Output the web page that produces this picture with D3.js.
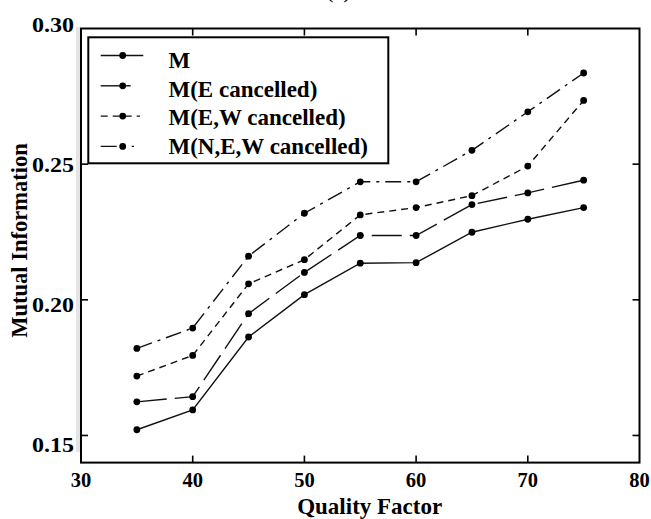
<!DOCTYPE html>
<html>
<head>
<meta charset="utf-8">
<script src="https://cdn.jsdelivr.net/npm/d3@7"></script>
<style>
  html, body { margin: 0; padding: 0; background: #ffffff; }
  svg { display: block; }
  text { font-family: "Liberation Serif", "Times New Roman", serif; font-weight: bold; fill: #000; }
</style>
</head>
<body>
<svg id="chart" width="651" height="519"></svg>
<script>
// ---- data ----
const qualityFactor = [35, 40, 45, 50, 55, 60, 65, 70, 75];
const seriesM   = [0.1521, 0.1594, 0.1863, 0.2019, 0.2135, 0.2137, 0.2249, 0.2297, 0.2340];
const seriesE   = [0.1624, 0.1643, 0.1949, 0.2101, 0.2237, 0.2237, 0.2351, 0.2394, 0.2441];
const seriesEW  = [0.1719, 0.1795, 0.2059, 0.2148, 0.2313, 0.2340, 0.2384, 0.2493, 0.2735];
const seriesNEW = [0.1821, 0.1896, 0.2161, 0.2319, 0.2435, 0.2435, 0.2551, 0.2693, 0.2836];
const seriesNames = ["M", "M(E cancelled)", "M(E,W cancelled)", "M(N,E,W cancelled)"];
const xTicks = [30, 40, 50, 60, 70, 80];
const yTicks = [0.15, 0.20, 0.25, 0.30];
const xTitle = "Quality Factor";
const yTitle = "Mutual Information";
const panelTitle = "(a)";

// ---- styles ----
const dashes = [null, "30,8", "7,5", "16,6,3,6"];
const legendLineEnd = [143.3, 134.3, 140, 134];

const svg = d3.select("#chart");
const x = d3.scaleLinear().domain([30, 80]).range([81, 639.5]);
const y = d3.scaleLinear().domain([0.14, 0.30]).range([462.6, 28.5]);
const yLabelPos = d3.scaleLinear().domain([0.15, 0.30]).range([451.5, 31.7]);

// panel title (cut off at top, as in the reference)
svg.append("text").attr("x", 338.5).attr("y", -2).attr("text-anchor", "middle")
  .style("font-size", "22px").style("font-weight", "normal").text(panelTitle);

// light gray strip left of axis
svg.append("rect").attr("x", 76).attr("y", 27).attr("width", 4).attr("height", 425).attr("fill", "#e4e4e4");

// plot frame
const x0 = x.range()[0], x1 = x.range()[1], yb = y.range()[0], yt = y.range()[1];
svg.append("rect").attr("x", x0).attr("y", yt).attr("width", x1 - x0).attr("height", yb - yt)
  .attr("fill", "none").attr("stroke", "#000").attr("stroke-width", 2);

// ticks inward, on all four sides
const tickLen = 7;
const tickG = svg.append("g").attr("stroke", "#000").attr("stroke-width", 1.6);
xTicks.filter(t => t > 30 && t < 80).forEach(t => {
  tickG.append("line").attr("x1", x(t)).attr("x2", x(t)).attr("y1", yb).attr("y2", yb - tickLen);
  tickG.append("line").attr("x1", x(t)).attr("x2", x(t)).attr("y1", yt).attr("y2", yt + tickLen);
});
yTicks.filter(t => t < 0.30).forEach(t => {
  tickG.append("line").attr("x1", x0).attr("x2", x0 + tickLen).attr("y1", y(t)).attr("y2", y(t));
  tickG.append("line").attr("x1", x1).attr("x2", x1 - tickLen).attr("y1", y(t)).attr("y2", y(t));
});

// x tick labels
svg.append("g").selectAll("text").data(xTicks).join("text")
  .attr("x", d => x(d)).attr("y", 487).attr("text-anchor", "middle")
  .style("font-size", "20.5px").text(d => d);

// y tick labels
svg.append("g").selectAll("text").data(yTicks).join("text")
  .attr("x", 74).attr("y", d => yLabelPos(d)).attr("text-anchor", "end")
  .style("font-size", "20.5px").attr("textLength", 42).attr("lengthAdjust", "spacingAndGlyphs")
  .text(d => d3.format(".2f")(d));

// axis titles
svg.append("text").attr("x", 369.7).attr("y", 514).attr("text-anchor", "middle")
  .style("font-size", "23px").text(xTitle);
svg.append("text").attr("transform", "translate(27,240.5) rotate(-90)").attr("text-anchor", "middle")
  .style("font-size", "22.5px").text(yTitle);

// series
const allSeries = [seriesM, seriesE, seriesEW, seriesNEW];
const line = d3.line().x((d, i) => x(qualityFactor[i])).y(d => y(d));
allSeries.forEach((vals, si) => {
  svg.append("path").datum(vals).attr("d", line)
    .attr("fill", "none").attr("stroke", "#111").attr("stroke-width", 1.4)
    .attr("stroke-dasharray", dashes[si]);
  svg.append("g").selectAll("circle").data(vals).join("circle")
    .attr("cx", (d, i) => x(qualityFactor[i])).attr("cy", d => y(d)).attr("r", 3.4).attr("fill", "#000");
});

// legend
const lg = svg.append("g");
lg.append("rect").attr("x", 88.3).attr("y", 37.3).attr("width", 300).attr("height", 126)
  .attr("fill", "#fff").attr("stroke", "#000").attr("stroke-width", 2);
seriesNames.forEach((name, i) => {
  const ly = 55.5 + 30.3 * i;
  lg.append("line").attr("x1", 100.7).attr("x2", legendLineEnd[i]).attr("y1", ly).attr("y2", ly)
    .attr("stroke", "#111").attr("stroke-width", 1.4).attr("stroke-dasharray", dashes[i]);
  lg.append("circle").attr("cx", 122.7).attr("cy", ly).attr("r", 3.4).attr("fill", "#000");
  lg.append("text").attr("x", 168.5).attr("y", 68.3 + 28.4 * i)
    .style("font-size", "23px").text(name);
});
</script>
</body>
</html>
